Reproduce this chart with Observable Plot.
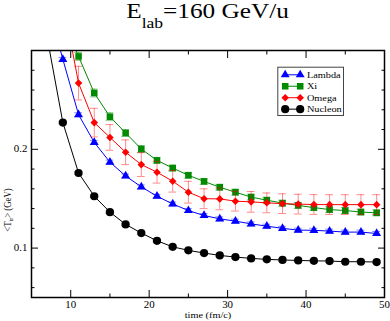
<!DOCTYPE html>
<html><head><meta charset="utf-8">
<script src="https://cdn.jsdelivr.net/npm/d3@7"></script>
<script src="https://cdn.jsdelivr.net/npm/@observablehq/plot@0.6"></script>
<style>
body{margin:0;background:#fff;width:390px;height:321px;overflow:hidden;font-family:"Liberation Serif",serif}
#title{position:relative;height:40px;}
#title .t{position:absolute;left:26px;width:364px;top:-1px;text-align:center;line-height:24px;white-space:nowrap}
#title .in{display:inline-block;font-size:21.6px;transform:scaleX(1.17);}
#title .sub{font-size:15px;position:relative;top:10px;}
</style></head><body>
<div id="title"><div class="t"><span class="in">E<span class="sub">lab</span>=160 GeV/u</span></div></div>
<div id="chart"></div>
<script>
// ---- data ----
const time = [7, 9, 11, 13, 15, 17, 19, 21, 23, 25, 27, 29, 31, 33, 35, 37, 39, 41, 43, 45, 47, 49];
const lambda  = [0.350, 0.291, 0.235, 0.207, 0.187, 0.173, 0.162, 0.1525, 0.1447, 0.138, 0.133, 0.1296, 0.1273, 0.1245, 0.1222, 0.120, 0.1182, 0.118, 0.1172, 0.1162, 0.1162, 0.1148];
const xi      = [null, 0.330, 0.294, 0.257, 0.233, 0.2165, 0.2003, 0.1888, 0.181, 0.1737, 0.1675, 0.1616, 0.1566, 0.1516, 0.1485, 0.1455, 0.1432, 0.141, 0.139, 0.138, 0.1365, 0.1357];
const omega   = [null, 0.350, 0.267, 0.227, 0.212, 0.197, 0.1845, 0.1768, 0.1677, 0.1566, 0.150, 0.1498, 0.1475, 0.1468, 0.1458, 0.145, 0.1445, 0.1441, 0.144, 0.144, 0.144, 0.144];
const nucleon = [0.313, 0.227, 0.176, 0.1525, 0.1364, 0.124, 0.1152, 0.1074, 0.1013, 0.0977, 0.095, 0.0926, 0.0909, 0.0896, 0.0886, 0.088, 0.0875, 0.0871, 0.0869, 0.0862, 0.0862, 0.0859];
const lambdaErr  = [0.002, 0.002, 0.002, 0.002, 0.002, 0.002, 0.002, 0.002, 0.002, 0.002, 0.002, 0.002, 0.002, 0.002, 0.002, 0.002, 0.002, 0.002, 0.002, 0.002, 0.002, 0.002];
const xiErr      = [null, 0.005, 0.004, 0.004, 0.004, 0.0035, 0.0035, 0.003, 0.003, 0.003, 0.003, 0.003, 0.003, 0.003, 0.003, 0.003, 0.003, 0.003, 0.003, 0.003, 0.003, 0.003];
const omegaErr   = [null, 0.020, 0.017, 0.0145, 0.013, 0.0125, 0.012, 0.011, 0.011, 0.011, 0.010, 0.011, 0.010, 0.0105, 0.010, 0.010, 0.010, 0.010, 0.010, 0.010, 0.010, 0.010];
const nucleonErr = [0.0012, 0.0012, 0.0012, 0.0012, 0.0012, 0.0012, 0.0012, 0.0012, 0.0012, 0.0012, 0.0012, 0.0012, 0.0012, 0.0012, 0.0012, 0.0012, 0.0012, 0.0012, 0.0012, 0.0012, 0.0012, 0.0012];

const seriesNames = ["Lambda", "Xi", "Omega", "Nucleon"];
const seriesValues = [lambda, xi, omega, nucleon];
const seriesErrors = [lambdaErr, xiErr, omegaErr, nucleonErr];

const xMajorTicks = [10, 20, 30, 40, 50];
const xMinorTicks = [15, 25, 35, 45];
const yMajorTicks = [0.1, 0.2];
const yMinorTicks = [0.06, 0.08, 0.12, 0.14, 0.16, 0.18, 0.22, 0.24, 0.26, 0.28];

// ---- styles ----
const seriesColors = ["#0000ff", "#008b00", "#ff0000", "#000000"];
const seriesSymbols = ["triangle", "square", "diamond2", "circle"];
const seriesR = [3.3, 3.7, 3.4, 4.1];
const capHalf = 0.5;
const FONT = '"Liberation Serif", serif';
const STRETCH = 1.17;

const lineSymbol = {draw(ctx) { ctx.moveTo(-7.5, 0); ctx.lineTo(7.5, 0); }};

const marks = [];
seriesNames.forEach((name, k) => {
  const rows = time.map((t, i) => ({t, v: seriesValues[k][i], e: seriesErrors[k][i]})).filter(d => d.v != null);
  const color = seriesColors[k];
  marks.push(Plot.ruleX(rows, {x: "t", y1: d => d.v - d.e, y2: d => d.v + d.e, stroke: color, strokeOpacity: 0.45, strokeWidth: 1, clip: true}));
  marks.push(Plot.ruleY(rows, {y: d => d.v - d.e, x1: d => d.t - capHalf, x2: d => d.t + capHalf, stroke: color, strokeOpacity: 0.45, strokeWidth: 1, clip: true}));
  marks.push(Plot.ruleY(rows, {y: d => d.v + d.e, x1: d => d.t - capHalf, x2: d => d.t + capHalf, stroke: color, strokeOpacity: 0.45, strokeWidth: 1, clip: true}));
  marks.push(Plot.line(rows, {x: "t", y: "v", stroke: color, strokeWidth: 1, clip: true}));
  marks.push(Plot.dot(rows, {x: "t", y: "v", symbol: seriesSymbols[k], r: seriesR[k], fill: color, stroke: "none", clip: true}));
});

// legend
marks.push(Plot.frame({insetLeft: 246.3, insetRight: 41, insetTop: 16.7, insetBottom: 182, stroke: "#444", strokeWidth: 1, fill: "white"}));
seriesNames.forEach((name, k) => {
  const dy = 24.3 + k * 11.45;
  const color = seriesColors[k];
  marks.push(Plot.dot([name], {frameAnchor: "top-right", dx: -91.8, dy, symbol: lineSymbol, r: 1, fill: "none", stroke: color, strokeWidth: 1}));
  marks.push(Plot.dot([name], {frameAnchor: "top-right", dx: -99.3, dy, symbol: seriesSymbols[k], r: seriesR[k], fill: color, stroke: "none"}));
  marks.push(Plot.dot([name], {frameAnchor: "top-right", dx: -84.3, dy, symbol: seriesSymbols[k], r: seriesR[k], fill: color, stroke: "none"}));
  marks.push(Plot.text([name], {frameAnchor: "top-right", dx: -77.6, dy, text: d => d, textAnchor: "start", lineAnchor: "middle", fontSize: 8.8, fill: "black"}));
});

// ticks (inward, all four sides)
const noText = () => "";
marks.push(
  Plot.axisX(xMajorTicks, {anchor: "bottom", tickSize: -7, tickFormat: noText, label: null}),
  Plot.axisX(xMinorTicks, {anchor: "bottom", tickSize: -3.5, tickFormat: noText, label: null}),
  Plot.axisX(xMajorTicks, {anchor: "top", tickSize: -7, tickFormat: noText, label: null}),
  Plot.axisX(xMinorTicks, {anchor: "top", tickSize: -3.5, tickFormat: noText, label: null}),
  Plot.axisY(yMajorTicks, {anchor: "left", tickSize: -7, tickFormat: noText, label: null}),
  Plot.axisY(yMinorTicks, {anchor: "left", tickSize: -3.5, tickFormat: noText, label: null}),
  Plot.axisY(yMajorTicks, {anchor: "right", tickSize: -7, tickFormat: noText, label: null}),
  Plot.axisY(yMinorTicks, {anchor: "right", tickSize: -3.5, tickFormat: noText, label: null}),
  Plot.axisX(xMajorTicks, {anchor: "bottom", tickSize: 0, tickPadding: 3.5, label: null, fontSize: 9.3}),
  Plot.axisY(yMajorTicks, {anchor: "left", tickSize: 0, tickPadding: 4, label: null, fontSize: 9.3, tickFormat: d => String(d)}),
  Plot.text(["time (fm/c)"], {frameAnchor: "bottom", dy: 17.5, text: d => d, lineAnchor: "middle", fontSize: 8.8, fill: "black"}),
  Plot.frame({stroke: "black", strokeWidth: 1.5})
);

const svg = Plot.plot({
  width: 390,
  height: 281,
  marginTop: 10,
  marginBottom: 24,
  marginLeft: 31,
  marginRight: 6,
  style: {fontFamily: FONT, fontSize: "9.3px", background: "white", color: "black"},
  x: {domain: [5, 50]},
  y: {domain: [0.05, 0.3]},
  marks
});
document.getElementById("chart").appendChild(svg);

// horizontal stretch of the reference's text
svg.querySelectorAll("text").forEach(t => {
  const b = t.getBBox();
  if (!b.width) return;
  const anchor = getComputedStyle(t).textAnchor;
  const ax = anchor === "end" ? b.x + b.width : anchor === "middle" ? b.x + b.width / 2 : b.x;
  const prior = t.getAttribute("transform") || "";
  t.setAttribute("transform", `${prior} translate(${ax},0) scale(${STRETCH},1) translate(${-ax},0)`);
});

// y-axis label with subscript
const yl = d3.select(svg).append("text")
  .attr("transform", `translate(11,170) rotate(-90) scale(1,${STRETCH})`)
  .attr("text-anchor", "middle")
  .style("font-family", FONT)
  .attr("font-size", 8.8)
  .attr("fill", "black");
yl.append("tspan").text("<T");
yl.append("tspan").attr("font-size", 6).attr("dy", 2).text("tr");
yl.append("tspan").attr("dy", -2).text("> (GeV)");
</script>
</body></html>
